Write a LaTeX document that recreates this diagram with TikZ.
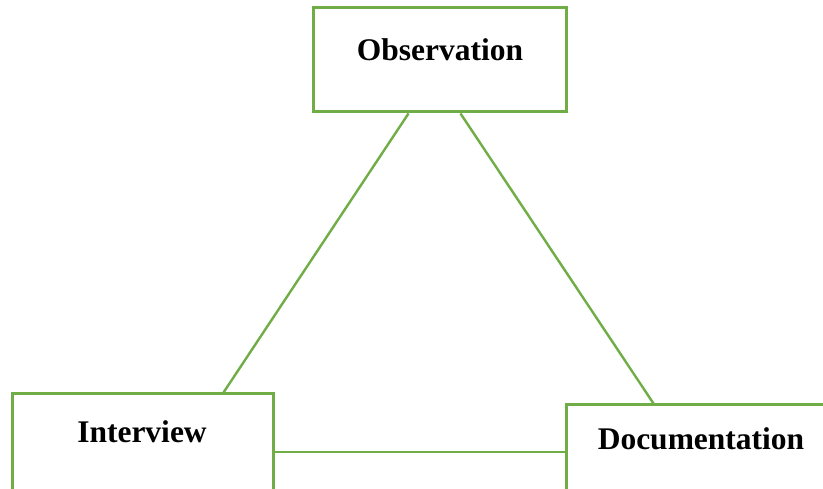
\documentclass[tikz,border=0pt]{standalone}
\usepackage{fontspec}
\setmainfont{Liberation Serif}
\definecolor{boxgreen}{RGB}{112,173,71}
\begin{document}
\begin{tikzpicture}[x=1pt,y=1pt,
  box/.style={draw=boxgreen,line width=3pt,rectangle,inner sep=0pt,fill=white},
  lbl/.style={font=\fontsize{31.5}{36}\selectfont\bfseries,inner sep=0pt,anchor=center},
  link/.style={draw=boxgreen,line width=2.4pt}]
\useasboundingbox (0,0) rectangle (823,489);
\clip (0,0) rectangle (823,489);
\node[box,minimum width=253pt,minimum height=104pt] (obs) at (439.5,429) {};
\node[box,minimum width=261pt,minimum height=116pt] (int) at (142.5,37) {};
\node[box,minimum width=284pt,minimum height=94pt] (doc) at (708,37) {};
\node[lbl] (tobs) at (440,439) {Observation};
\node[lbl] (tint) at (142,57) {Interview};
\node[lbl] (tdoc) at (701,50) {Documentation};
\draw[link] ([xshift=97pt]obs.south west) -- ([xshift=213pt]int.north west);
\draw[link] ([xshift=149pt]obs.south west) -- ([xshift=89pt]doc.north west);
\draw[link] (int.east) -- (doc.west);
\end{tikzpicture}
\end{document}
